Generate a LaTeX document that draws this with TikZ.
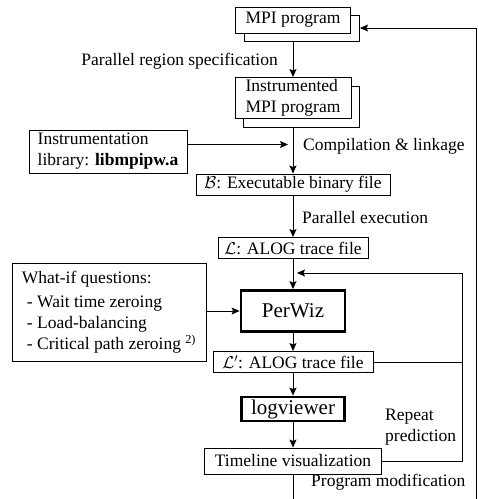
\documentclass[tikz,border=0pt]{standalone}
\usepackage{fontspec}
\setmainfont{Liberation Serif}
\usepackage{tikz}
\usetikzlibrary{arrows.meta,shadows}

\begin{document}
\begin{tikzpicture}[x=1pt, y=-1pt,
    every node/.style={font=\fontsize{17.5}{21}\selectfont},
    bx/.style={draw, line width=0.9pt, fill=white, inner sep=0pt},
    doc/.style={bx, copy shadow={shadow xshift=8.5pt, shadow yshift=-8.5pt,
                draw, fill=white, line width=0.9pt}},
    tool/.style={draw, line width=2.8pt, fill=white, inner sep=0pt,
                 font=\fontsize{21}{24}\selectfont},
    e/.style={-{Stealth[length=8pt, width=7pt, inset=1.5pt]}, line width=0.9pt},
    ln/.style={line width=0.9pt},
    lbl/.style={inner sep=0pt},
  ]
  \useasboundingbox (0,0) rectangle (479,499);
  \clip (0,0) rectangle (479,499);
  % flow of boxes
  \node[doc, minimum width=115pt, minimum height=26pt] (prog) at (293,20) {MPI program};
  \node[doc, minimum width=116pt, minimum height=41pt, align=left] (inst) at (293,98) {Instrumented\\MPI program};
  \node[bx, minimum width=158pt, minimum height=43pt, align=left] (lib) at (108,151.5) {Instrumentation\\library: \textbf{libmpipw.a}};
  \node[bx, minimum width=194pt, minimum height=21pt] (bin) at (293,184.5) {$\mathcal{B}$: Executable binary file};
  \node[bx, minimum width=150pt, minimum height=21pt] (alog) at (293,248) {$\mathcal{L}$: ALOG trace file};
  \node[bx, minimum width=194pt, minimum height=98pt, align=left] (whatif) at (109,312) {What-if questions:\\[3pt]
    \hspace*{5pt}- Wait time zeroing\\
    \hspace*{5pt}- Load-balancing\\
    \hspace*{5pt}- Critical path zeroing \textsuperscript{2)}};
  \node[tool, minimum width=104pt, minimum height=41pt] (perwiz) at (293,311) {PerWiz};
  \node[bx, minimum width=160pt, minimum height=21pt] (alog2) at (293,362) {$\mathcal{L}'$: ALOG trace file};
  \node[tool, minimum width=103pt, minimum height=24pt] (logv) at (293,409) {logviewer};
  \node[bx, minimum width=177pt, minimum height=26pt] (tl) at (293,461) {Timeline visualization};
  % corners of the loops
  \coordinate (fbr) at (462,273);
  \coordinate (pmr) at (476,510);
  \coordinate (pmt) at (476,28);
  \coordinate (mpiin) at (360,28);
  % labels
  \node[lbl, anchor=east] (preg) at (278,61) {Parallel region specification};
  \node[lbl, anchor=west] (cmpl) at (303,146) {Compilation \& linkage};
  \node[lbl, anchor=west] (pexec) at (302,218) {Parallel execution};
  \node[lbl, anchor=west, align=left] (rep) at (385,427) {Repeat\\prediction};
  \node[lbl, anchor=west] (pmod) at (311,482) {Program modification};
  % connectors
  \draw[e] ([yshift=-8.5pt]prog.south) -- (inst.north);
  \draw[e] ([yshift=-8.5pt]inst.south) -- (bin.north);
  \draw[e, shorten >=5pt] ([yshift=7pt]lib.east) -- ([yshift=7pt]lib.east -| inst.south);
  \draw[e] (bin.south) -- (alog.north);
  \draw[e] (alog.south) -- (perwiz.north);
  \draw[e] (whatif.east |- perwiz.west) -- (perwiz.west);
  \draw[e] (perwiz.south) -- (alog2.north);
  \draw[e] (alog2.south) -- (logv.north);
  \draw[e] (logv.south) -- (tl.north);
  \draw[ln] (alog2.east) -- (alog2.east -| fbr);
  \draw[e, shorten >=4pt] (tl.east) -| (fbr) -- (fbr -| perwiz.north);
  \draw[e] (tl.south) -- (tl.south |- pmr) -- (pmr) -- (pmt) -- (mpiin);
\end{tikzpicture}
\end{document}
